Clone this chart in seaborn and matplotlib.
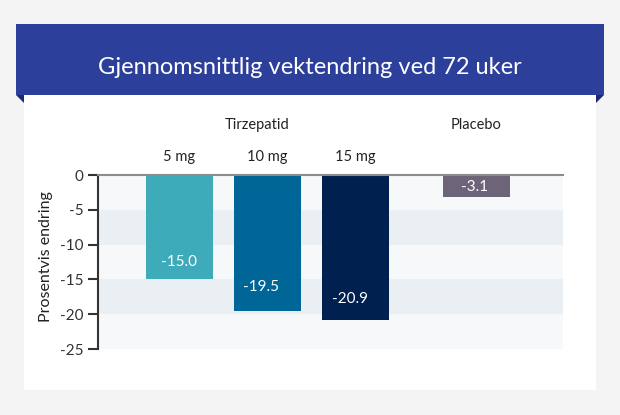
import matplotlib
matplotlib.use("Agg")
import matplotlib.pyplot as plt
from matplotlib.patches import Rectangle, Polygon
import pandas as pd
import seaborn as sns

# data
doses = ["5 mg", "10 mg", "15 mg", "Placebo"]
changes = [-15.0, -19.5, -20.9, -3.1]
groups = ["Tirzepatid", "Tirzepatid", "Tirzepatid", "Placebo"]
y_ticks = [0, -5, -10, -15, -20, -25]

title = "Gjennomsnittlig vektendring ved 72 uker"
y_label = "Prosentvis endring"

# layout / style
positions = [0, 1, 2, 3.375]
bar_colors = ["#3eabba", "#006597", "#00204f", "#6e6479"]
label_offsets = [(0, 17), (-6, 24), (-5, 21), (-2, 10)]
W, H = 620, 415
BG = "#f4f4f4"
BANNER = "#2c3f9b"
BANNER_DARK = "#1f2b70"
FONT = ["Lato", "DejaVu Sans"]

sns.set_theme(style="white")
plt.rcParams["font.family"] = FONT

df = pd.DataFrame({"pos": positions, "value": changes, "dose": doses})

fig = plt.figure(figsize=(W / 100, H / 100), dpi=100)
fig.patch.set_facecolor(BG)


def fx(px):
    return px / W


def fy(py):
    return 1 - py / H


# white card and blue banner
fig.patches.append(Rectangle((fx(24), fy(390)), fx(596) - fx(24), fy(95) - fy(390),
                             transform=fig.transFigure, facecolor="white", edgecolor="none", zorder=-2))
fig.patches.append(Rectangle((fx(16), fy(95)), fx(604) - fx(16), fy(24) - fy(95),
                             transform=fig.transFigure, facecolor=BANNER, edgecolor="none", zorder=-1))
fig.patches.append(Polygon([(fx(16), fy(95)), (fx(24), fy(95)), (fx(24), fy(103))],
                           closed=True, transform=fig.transFigure, facecolor=BANNER_DARK,
                           edgecolor="none", zorder=-1))
fig.patches.append(Polygon([(fx(596), fy(95)), (fx(604), fy(95)), (fx(596), fy(103))],
                           closed=True, transform=fig.transFigure, facecolor=BANNER_DARK,
                           edgecolor="none", zorder=-1))
fig.text(fx(310), fy(68), title, color="white", fontsize=17, ha="center", va="center", zorder=2)

ax = fig.add_axes([fx(98), fy(349), fx(563) - fx(98), fy(175) - fy(349)])
ax.set_zorder(3)
ax.set_facecolor("#f7f8fa")
for i in range(len(y_ticks) - 1):
    if i % 2 == 1:
        ax.axhspan(y_ticks[i + 1], y_ticks[i], color="#eaeff3", lw=0, zorder=0)

sns.barplot(data=df, x="pos", y="value", hue="dose", hue_order=doses, palette=bar_colors,
            native_scale=True, dodge=False, width=0.76, saturation=1, legend=False,
            linewidth=0, ax=ax, zorder=2)

for x, v, (dx, dy) in zip(positions, changes, label_offsets):
    ax.annotate(f"{v:.1f}", (x, v), xytext=(dx, dy), textcoords="offset pixels",
                ha="center", va="center", color="white", fontsize=11, zorder=3)

ax.set_xlim(-0.926, 4.358)
ax.set_ylim(-25, 0)
ax.set_yticks(y_ticks)
ax.set_yticklabels([str(t) for t in y_ticks])
ax.set_xticks([])
ax.set_xlabel("")
ax.set_ylabel("")
ax.tick_params(axis="y", length=7.2, width=1.5, color="#333333", labelsize=11,
               labelcolor="#333333", pad=3, left=True)
for side in ["right", "bottom"]:
    ax.spines[side].set_visible(False)
ax.spines["left"].set_color("#333333")
ax.spines["left"].set_linewidth(1.5)
ax.spines["top"].set_color("#8c8c8c")
ax.spines["top"].set_linewidth(1.5)
ax.spines["top"].set_zorder(4)

# dose labels above bars
for x, d in zip(positions[:3], doses[:3]):
    px = ax.transData.transform((x, 0))[0]
    fig.text(px / W, fy(157), d, ha="center", va="center", fontsize=10.5, color="#222222")
# group labels
fig.text(fx(257), fy(125), "Tirzepatid", ha="center", va="center", fontsize=10.5, color="#222222")
px = ax.transData.transform((positions[3], 0))[0]
fig.text(px / W, fy(125), groups[3], ha="center", va="center", fontsize=10.5, color="#222222")

fig.text(fx(46), fy(257), y_label, rotation=90, ha="center", va="center", fontsize=11.5,
         color="#222222")

fig.savefig("out.png", dpi=100, facecolor=BG)
